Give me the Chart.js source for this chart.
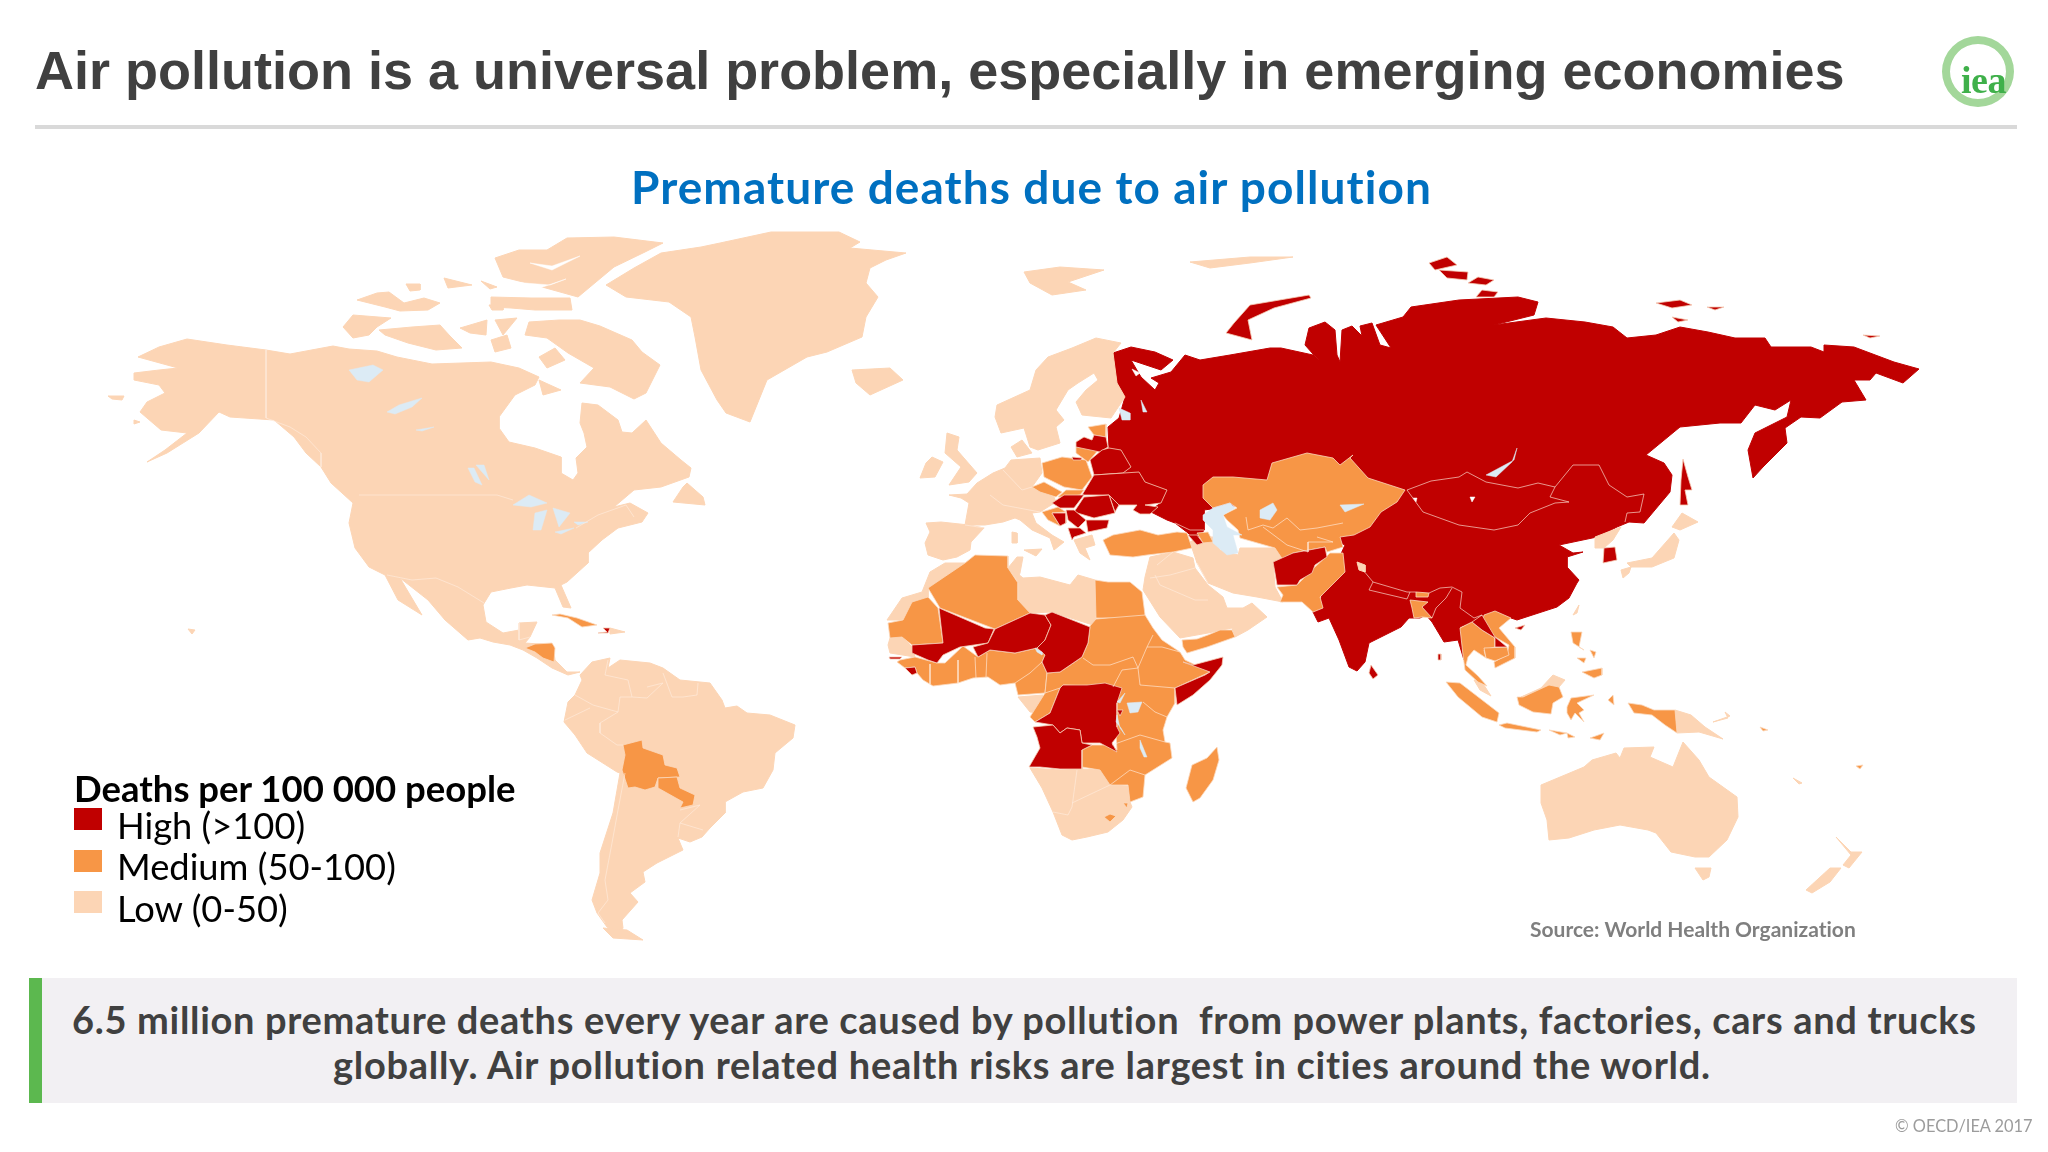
<!DOCTYPE html>
<html>
<head>
<meta charset="utf-8">
<title>Premature deaths due to air pollution</title>
<script src="https://cdn.jsdelivr.net/npm/chart.js@4/dist/chart.umd.min.js"></script>
<style>
html,body{margin:0;padding:0;background:#fff}
#page{position:relative;width:2048px;height:1152px;overflow:hidden;background:#fff}
#map{position:absolute;left:0;top:0}
.t{position:absolute;white-space:nowrap;font-family:Lato,sans-serif;font-variant-ligatures:none}
.box{position:absolute}
</style>
</head>
<body>
<div id="page">
<canvas id="map" width="2048" height="1152"></canvas>
<div class="t" style="left:35px;top:37px;font:bold 54px/66px 'Liberation Sans';color:#404040">Air pollution is a universal problem, especially in emerging economies</div>
<div class="box" style="left:35px;top:125px;width:1982px;height:4px;background:#d9d9d9"></div>
<div class="box" style="left:1942px;top:36px;width:56px;height:55px;border:8px solid #a3d79a;border-radius:50%"></div>
<div class="t" style="left:1961px;top:60px;font:bold 38px/40px 'Liberation Serif';color:#3fb04a;letter-spacing:-.5px">iea</div>
<div class="t" style="left:631px;top:158px;font-weight:700;font-size:46px;line-height:58px;letter-spacing:1.07px;color:#0070c0">Premature deaths due to air pollution</div>
<div class="t" style="left:74px;top:766px;font-weight:700;font-size:36.5px;line-height:44px;color:#000" id="legendTitle"></div>
<div id="legend"></div>
<div class="t" style="left:1530px;top:915px;font-weight:700;font-size:21px;line-height:28px;color:#7f7f7f">Source: World Health Organization</div>
<div class="box" style="left:29px;top:978px;width:1988px;height:125px;background:#f2f0f3"></div>
<div class="box" style="left:29px;top:978px;width:13px;height:125px;background:#5cb84f"></div>
<div class="t" style="left:72px;top:997px;font-weight:700;font-size:38px;line-height:44px;letter-spacing:.68px;color:#404040">6.5 million premature deaths every year are caused by pollution&nbsp; from power plants, factories, cars and trucks</div>
<div class="t" style="left:333px;top:1042px;font-weight:700;font-size:38px;line-height:44px;letter-spacing:.72px;color:#404040">globally. Air pollution related health risks are largest in cities around the world.</div>
<div class="t" style="left:1895px;top:1115px;font-size:16.4px;line-height:22px;color:#9c9c9c">© OECD/IEA 2017</div>
</div>
<script>
// legend
var legendTitle = "Deaths per 100 000 people";
var legendLabels = ["High (>100)", "Medium (50-100)", "Low (0-50)"];
var legendColors = ["#C00000", "#F79646", "#FCD5B5"];

// map outlines, flat x,y lists in map units
var eurasiaHigh = [
 [1113,353,1131,347,1155,352,1173,360,1161,370,1131,360,1141,377,1155,390,1159,383,1151,378,1171,372,1185,355,1200,360,1230,355,1270,348,1281,348,1313,355,1321,363,1305,345,1309,328,1325,322,1335,330,1337,355,1340,362,1342,330,1352,326,1362,336,1360,326,1372,323,1380,345,1391,348,1376,325,1403,317,1411,307,1459,300,1518,297,1538,302,1534,315,1494,325,1546,318,1585,322,1613,327,1627,338,1656,335,1680,327,1708,332,1735,338,1765,338,1771,347,1811,347,1824,352,1824,345,1854,347,1894,362,1919,369,1903,383,1876,373,1870,380,1854,380,1866,400,1842,402,1820,418,1801,417,1785,428,1787,443,1763,467,1753,478,1748,450,1755,433,1787,417,1791,400,1775,410,1755,405,1741,423,1720,423,1700,425,1680,427,1646,455,1664,463,1672,475,1670,492,1644,523,1629,522,1617,527,1597,537,1559,545,1573,553,1583,552,1567,557,1567,567,1579,580,1577,583,1569,598,1557,607,1517,620,1511,618,1484,617,1472,622,1460,627,1462,643,1464,660,1458,640,1444,642,1432,622,1426,615,1420,618,1409,618,1401,627,1369,643,1365,662,1357,671,1349,667,1339,640,1329,618,1318,622,1312,610,1320,600,1345,545,1300,525,1240,505,1204,510,1204,530,1197,542,1188,533,1175,523,1167,520,1149,511,1161,503,1167,490,1145,482,1139,472,1123,473,1131,467,1121,450,1109,448,1108,427,1119,418,1125,397,1117,383]
];
var lowAreas = [
 // north america
 [138,357,159,347,187,339,227,345,266,350,290,354,333,346,349,349,377,351,397,357,432,364,491,362,519,368,539,377,535,385,515,395,499,417,499,428,509,442,535,448,561,457,561,473,573,480,578,473,576,458,587,447,584,433,580,423,582,403,598,405,618,420,622,432,632,433,646,420,661,443,681,460,691,468,689,477,661,487,634,490,614,507,630,503,648,513,642,522,618,528,602,540,588,553,588,563,567,582,561,585,571,608,563,607,555,588,527,585,511,588,491,592,483,605,486,622,503,633,519,630,519,623,537,622,530,637,525,643,553,645,555,660,567,672,580,672,568,675,552,668,537,658,523,650,510,645,493,642,480,638,468,640,445,620,428,600,400,578,422,615,398,600,385,575,369,567,355,548,349,523,353,503,331,483,321,467,306,453,294,437,274,420,230,417,219,412,199,433,167,453,147,462,165,450,187,433,161,430,140,412,147,402,165,393,159,385,134,380,134,373,159,370,178,368],
 // arctic islands
 [580,320,600,326,632,340,642,352,660,365,646,393,634,399,610,387,580,383,594,368,568,353,547,338,525,335,529,322,559,320],
 [343,327,353,315,391,318,377,327,369,335,353,338],
 [379,330,412,327,440,325,450,336,462,348,436,350,408,343,385,335],
 [460,328,487,320,486,335,470,333],
 [495,320,517,318,503,335],
 [491,340,507,335,511,348,495,352],
 [357,300,377,293,389,292,404,303,424,298,440,303,428,310,400,311,385,307],
 [444,278,472,285,448,288],
 [406,284,420,284,420,290,410,291],
 [481,281,497,287,490,289],
 [489,305,503,305,503,310,492,310],
 [495,258,519,250,547,250,567,238,614,237,663,243,645,252,614,267,578,297,535,285,503,277],
 [491,297,531,298,570,298,572,310,535,310,511,308,491,307],
 [539,357,555,348,565,360,547,368],
 [539,380,561,390,543,395],
 [687,483,703,497,705,505,673,502,683,487],
 [124,396,122,400,112,399,108,396],
 [134,420,140,422,134,424],
 [188,629,195,630,192,634],
 [610,628,625,632,610,634],
 // greenland, iceland, svalbard
 [606,285,634,268,661,253,701,247,720,243,771,232,839,232,860,242,850,248,906,253,886,260,870,268,866,283,878,297,866,317,862,337,827,352,807,357,767,380,750,422,726,413,717,400,701,370,695,337,691,317,669,302,626,297],
 [852,370,890,368,903,380,870,395,856,383],
 [1024,272,1060,267,1104,270,1068,282,1086,290,1052,295,1030,283],
 [1190,262,1210,268,1250,263,1293,257,1250,257],
 // europe
 [1121,343,1096,338,1072,348,1048,357,1036,370,1030,390,997,405,995,417,1001,433,1024,428,1030,447,1038,450,1060,443,1056,427,1064,420,1056,410,1068,390,1078,383,1094,373,1098,380,1086,390,1076,402,1082,415,1111,418,1125,397,1117,383,1113,353],
 [947,433,959,437,957,450,977,473,969,482,949,485,961,467,945,453],
 [932,457,943,462,935,477,920,478,926,463],
 [926,523,941,522,969,525,984,528,971,542,970,550,957,557,943,560,928,555,925,543,930,532],
 [949,495,967,494,977,483,993,473,1005,468,1011,460,1040,458,1042,473,1032,487,1054,497,1056,502,1048,507,1040,512,1032,513,1036,523,1052,535,1064,542,1054,550,1050,538,1032,530,1020,520,1015,518,1003,522,985,525,965,525,969,503,961,498],
 [1011,447,1022,440,1032,453,1017,457],
 [1012,532,1017,533,1017,543,1012,543],
 [1024,550,1042,549,1036,556],
 [1074,540,1092,535,1095,545,1085,548,1090,560,1080,553],
 // africa north and south
 [887,620,902,598,922,592,930,572,945,563,965,563,963,573,953,580,928,588,928,597,912,602,903,620],
 [1017,573,1023,578,1040,577,1070,585,1078,575,1095,580,1096,626,1052,612,1030,613,1018,600],
 [1008,568,1017,557,1023,557,1020,573,1017,580],
 [888,645,890,638,902,637,912,647,915,657,890,653],
 [1018,697,1043,695,1040,703,1042,713,1030,712],
 [1030,768,1060,770,1082,769,1100,770,1110,785,1128,786,1130,802,1132,807,1123,820,1108,832,1087,837,1072,840,1062,835,1053,812,1042,788],
 // middle east
 [1190,542,1200,537,1213,537,1220,550,1238,555,1240,548,1275,548,1283,560,1273,562,1275,587,1283,602,1257,597,1233,593,1208,583,1197,563],
 [1143,590,1160,617,1180,638,1208,633,1232,628,1235,637,1248,630,1267,617,1252,603,1243,608,1227,608,1223,597,1208,585,1195,568,1193,558,1173,552,1150,557,1145,577],
 // asia pacific
 [1595,537,1621,527,1613,540,1604,548,1595,548],
 [1627,563,1652,558,1674,533,1679,540,1674,558,1652,567,1631,567],
 [1672,527,1682,513,1698,522,1680,530],
 [1621,570,1631,567,1629,573,1623,578],
 [1573,615,1579,605,1577,613],
 [1357,562,1365,565,1365,572,1359,570],
 [1474,680,1482,682,1491,696,1480,690],
 [1521,697,1541,688,1553,675,1565,680,1559,687,1549,685,1533,693],
 [1675,710,1691,715,1705,727,1723,739,1699,732,1677,733],
 [1713,722,1730,716,1725,712,1728,718],
 // south america
 [580,675,592,662,610,658,608,668,620,660,650,663,663,668,680,680,710,683,722,700,725,708,737,706,747,713,770,715,795,725,793,738,775,753,773,770,763,788,743,792,725,802,725,813,710,828,702,837,690,842,678,838,683,850,657,863,643,872,645,882,630,893,638,902,622,920,623,928,620,933,607,927,597,913,592,900,600,873,600,853,613,813,620,773,617,772,587,753,575,735,564,722,568,702,575,695,582,680],
 [603,928,627,930,643,940,613,938],
 // australia
 [1541,785,1584,767,1592,760,1616,753,1620,758,1624,748,1654,747,1650,757,1673,767,1683,742,1699,760,1709,777,1737,797,1738,817,1727,840,1709,857,1695,857,1671,852,1656,833,1648,830,1620,825,1594,830,1569,838,1549,840,1547,820,1541,803],
 [1695,868,1711,868,1709,877,1703,880],
 [1836,837,1851,852,1862,852,1849,868,1843,865,1851,855],
 [1806,890,1830,868,1841,868,1830,882,1812,893],
 [1793,778,1802,783,1799,784]
];
var mediumAreas = [
 // europe
 [1042,463,1062,457,1086,460,1092,477,1082,490,1064,487,1044,477],
 [1032,487,1044,482,1062,492,1056,497,1040,492],
 [1058,497,1066,490,1084,490,1080,495,1068,497],
 [1088,427,1106,424,1106,437,1094,435],
 [1076,447,1100,448,1088,462,1076,453],
 [1042,512,1058,507,1066,512,1052,513,1060,526,1048,520],
 [1103,540,1113,535,1140,530,1158,535,1177,532,1187,533,1192,548,1173,552,1147,555,1133,557,1110,555],
 [1197,533,1208,532,1213,542,1203,543],
 // central and south asia
 [1203,485,1213,477,1233,477,1267,480,1272,463,1307,453,1333,458,1340,465,1353,455,1350,458,1368,478,1405,490,1397,502,1381,512,1370,527,1354,535,1340,537,1343,547,1327,552,1325,547,1293,553,1283,560,1275,548,1240,538,1238,530,1227,520,1223,515,1237,508,1230,503,1213,508,1203,498],
 [1277,587,1297,585,1315,567,1330,553,1343,553,1345,572,1320,597,1323,608,1313,612,1302,602,1280,602,1283,595],
 [1416,592,1429,593,1428,597,1416,597],
 [1410,600,1428,602,1422,607,1432,618,1422,617,1414,618,1412,608],
 // south east asia
 [1484,615,1495,611,1511,618,1499,628,1515,647,1515,658,1495,668,1494,662,1507,655,1509,645,1495,637,1482,625],
 [1460,628,1472,622,1482,630,1495,638,1495,647,1484,650,1486,658,1474,650,1468,657,1466,665,1478,676,1487,686,1478,682,1465,670,1463,655],
 [1484,648,1507,647,1509,655,1495,661,1486,658],
 [1446,682,1460,683,1499,713,1497,722,1482,717,1458,697],
 [1499,725,1507,723,1541,730,1537,732,1505,728],
 [1549,730,1567,733,1560,735],
 [1567,733,1575,737,1568,738],
 [1590,738,1604,733,1600,740],
 [1517,697,1523,697,1549,685,1559,687,1563,697,1553,703,1551,714,1533,712,1519,705],
 [1567,707,1571,698,1594,695,1577,703,1584,710,1579,713,1584,722,1575,713,1571,720,1567,713],
 [1628,703,1642,705,1654,710,1675,710,1677,733,1665,725,1652,715,1634,713],
 [1571,632,1582,632,1579,647,1584,650,1573,643],
 [1582,672,1602,668,1602,675,1594,678],
 [1577,658,1586,658,1584,663],
 [1590,650,1596,652,1594,658],
 [1608,700,1613,695,1614,705],
 [1760,727,1768,730,1763,731],
 [1856,766,1863,765,1860,769],
 // central america and caribbean
 [525,648,535,644,552,643,555,648,554,662,543,658,535,652],
 [552,615,560,614,577,618,597,625,582,627,568,618],
 // bolivia, paraguay
 [623,745,642,740,643,748,663,755,665,765,677,768,680,777,658,778,655,787,645,790,635,787,628,788,622,770,625,755],
 [658,778,677,777,680,788,695,795,693,805,680,808,683,802,658,788],
 // africa
 [928,588,965,563,975,555,1008,556,1008,568,1018,583,1018,600,1030,613,995,629,940,608],
 [888,623,903,620,912,602,928,597,938,608,943,643,912,645,902,637,890,638],
 [900,660,915,657,937,663,945,663,963,646,978,657,990,650,1015,653,1037,648,1045,655,1042,662,1047,673,1045,693,1018,695,1015,683,1000,685,988,677,973,678,958,683,933,686,923,680,917,673,915,667,905,668,897,662],
 [1095,580,1108,582,1130,582,1142,592,1145,615,1138,618,1096,618],
 [1096,619,1145,615,1153,628,1162,640,1180,652,1185,660,1210,672,1175,688,1175,703,1167,717,1163,730,1165,742,1170,743,1172,758,1145,775,1143,797,1130,802,1128,785,1110,785,1100,770,1082,767,1082,750,1092,745,1112,745,1117,750,1113,687,1063,685,1060,688,1050,713,1035,722,1030,717,1045,693,1047,673,1060,672,1082,657,1088,643,1090,626],
 [1104,817,1110,814,1116,816,1110,822],
 [1123,803,1128,803,1127,808],
 [1186,788,1192,765,1207,758,1217,747,1219,760,1213,780,1200,798,1193,802],
 [1182,640,1197,639,1208,635,1220,630,1232,630,1235,637,1207,647,1187,653,1183,647]
];
var highAreas = [
 [1076,442,1084,437,1092,440,1094,435,1106,437,1108,447,1100,452,1076,447],
 [1072,457,1082,458,1081,460,1073,460],
 [1102,450,1109,448,1121,450,1131,467,1123,473,1094,475,1090,460],
 [1094,475,1139,472,1145,482,1167,490,1161,503,1145,505,1158,507,1150,514,1140,514,1133,510,1137,505,1119,505,1109,495,1082,495],
 [1109,495,1119,505,1115,512],
 [1052,503,1064,495,1084,495,1074,508,1060,508],
 [1084,497,1109,495,1115,513,1094,518,1074,512],
 [1066,510,1074,510,1086,520,1078,528,1068,520],
 [1086,520,1109,520,1107,528,1088,532],
 [1052,513,1066,513,1066,523,1060,526],
 [1068,528,1080,528,1086,533,1074,537,1072,540],
 [1188,535,1197,535,1203,543,1197,545],
 [1273,562,1293,553,1325,547,1327,557,1315,565,1312,573,1300,580,1297,585,1277,585,1275,573],
 [1472,622,1482,615,1495,637,1507,647,1495,647,1495,638,1482,630],
 [1515,628,1525,625,1521,630],
 [1371,665,1378,675,1373,679,1369,673],
 [1438,654,1441,654,1441,660,1438,660],
 [1604,548,1615,547,1617,560,1603,563],
 [1683,459,1688,477,1692,490,1685,490,1688,505,1680,505,1681,480],
 // russian islands
 [1226,333,1234,323,1250,305,1309,295,1311,298,1274,308,1248,320,1252,340],
 [1429,263,1447,257,1457,265,1435,270],
 [1439,270,1468,272,1467,280,1447,278],
 [1468,283,1478,277,1494,280,1486,285],
 [1476,297,1482,290,1498,292,1494,297],
 [1656,303,1680,300,1692,305,1672,308],
 [1707,307,1724,307,1715,310],
 [1672,317,1688,320,1678,322],
 [1863,335,1880,336,1870,338],
 // africa
 [939,608,985,628,994,629,988,643,960,647,943,655,937,663,928,660,912,653,912,645,943,643],
 [995,629,1030,613,1045,615,1051,625,1045,640,1037,648,1015,653,990,650,978,657,973,647,988,643],
 [1045,615,1052,612,1090,627,1088,643,1082,657,1060,672,1047,673,1042,662,1045,655,1037,648,1045,640,1051,625],
 [889,657,902,657,900,659,890,659],
 [905,668,915,667,917,673,912,675],
 [1183,662,1193,665,1223,657,1222,665,1210,680,1193,695,1177,705,1175,688,1205,675,1210,672],
 [1063,685,1087,685,1105,683,1122,688,1117,703,1117,727,1120,733,1112,743,1117,752,1100,743,1082,743,1080,730,1067,728,1060,733,1053,725,1035,722,1050,713,1060,688],
 [1033,727,1053,725,1060,733,1067,728,1080,730,1082,743,1092,745,1082,750,1082,769,1060,769,1040,767,1029,767,1040,748,1037,737],
 [1117,710,1123,710,1120,716],
 // caribbean
 [603,628,610,628,608,633,598,633,607,632]
];
var lakeAreas = [
 [1203,515,1213,508,1230,503,1235,508,1223,515,1227,527,1242,535,1233,535,1238,553,1227,555,1213,543,1213,530,1203,520],
 [1260,510,1273,503,1277,510,1270,520,1260,518],
 [1486,475,1514,460,1517,448,1512,462,1496,477],
 [1119,408,1130,413,1130,420,1122,420],
 [1141,400,1147,412,1143,412],
 [513,505,529,495,547,503,531,507],
 [535,513,547,510,541,530,533,530],
 [553,508,570,513,559,527],
 [555,532,574,528,561,534],
 [574,522,588,522,578,525],
 [468,468,474,468,482,485,475,482],
 [476,465,484,465,489,480],
 [349,370,373,365,383,370,369,382,357,380],
 [387,412,399,405,422,398,412,407,395,414],
 [416,430,434,427,422,431],
 [1127,703,1142,702,1138,712,1130,713],
 [1117,715,1120,728,1125,735,1121,728,1116,722],
 [1140,740,1147,757,1144,757,1140,748],
 [1117,702,1125,693,1120,703],
 [1035,648,1042,652,1042,655,1037,652],
 [1340,505,1364,504,1345,512]
];
var seaAreas = [
 [530,263,552,266,580,256,552,270],
 [512,282,550,285,566,279,540,288],
 [1132,369,1140,373,1136,376],
 [1413,498,1417,498,1416,502],
 [1470,497,1475,497,1472,502]
];
var borderLines = [
 [359,495,497,495,513,500],
 [576,528,598,515,626,505,634,517],
 [266,350,266,418,290,427,306,437,321,453,321,467],
 [387,575,412,580,436,578,458,587,484,603],
 [519,623,519,640,530,637],
 [608,660,605,675,628,680,632,697,620,697,618,712,600,723,600,733,617,745,623,745],
 [575,695,593,705,618,712],
 [565,720,590,708],
 [625,773,618,810,612,843,605,880,608,900,598,913,605,923],
 [632,697,647,698,663,683,647,687],
 [663,673,672,697,683,697,697,695,698,683],
 [678,837,680,823,700,805],
 [680,823,703,830],
 [680,810,700,805],
 [1077,770,1072,807,1068,815,1053,812],
 [1072,803,1093,793,1110,785],
 [1083,658,1093,665,1110,665,1133,657,1138,668,1147,647,1162,647,1180,652],
 [1153,635,1147,647],
 [1138,668,1140,685,1175,688],
 [1143,702,1155,712,1167,717],
 [1112,745,1140,735,1165,742],
 [1113,687,1122,670,1138,668],
 [1015,683,1030,673,1042,662],
 [987,653,986,677],
 [975,657,976,678],
 [958,660,958,683],
 [930,664,930,684],
 [1045,693,1060,688],
 [1110,785,1130,770,1145,775],
 [1246,517,1248,530,1263,525,1273,528,1287,518,1300,530,1317,528,1343,523],
 [1263,527,1287,545,1308,552],
 [1317,537,1333,542,1308,542,1308,552],
 [1363,570,1373,582,1369,590,1407,599,1410,592],
 [1373,582,1407,592,1416,592],
 [1429,593,1440,588,1452,587,1462,592,1460,608,1474,618,1482,615],
 [1432,618,1436,608,1446,598,1452,588],
 [1407,490,1431,481,1459,477,1467,472,1486,482,1518,488,1538,483,1555,487,1550,497,1569,502,1555,503,1530,513,1518,525,1494,530,1459,525,1423,512,1407,490],
 [1555,487,1573,465,1599,465,1609,485,1627,497,1644,494,1640,512,1627,513,1625,522],
 [1175,523,1190,530,1204,530],
 [990,495,1003,505],
 [1003,470,1022,490,1032,487],
 [1003,505,1040,512],
 [965,525,985,528],
 [1157,565,1173,552],
 [1150,578,1170,575,1195,568],
 [1155,575,1160,585,1195,600,1208,600],
 [1197,563,1208,583]
];

// outlines to chart points, closed when asked for
function toPoints(flat, closed) {
  var pts = [];
  for (var i = 0; i < flat.length; i += 2) {
    pts.push({x: flat[i], y: flat[i + 1]});
  }
  if (closed) pts.push({x: flat[0], y: flat[1]});
  return pts;
}
function addLayer(list, fillColor, lineColor, lineWidth) {
  list.forEach(function (flat) {
    datasets.push({
      data: toPoints(flat, !!fillColor),
      showLine: true,
      fill: fillColor ? 'shape' : false,
      backgroundColor: fillColor || 'transparent',
      borderColor: lineColor,
      borderWidth: lineWidth,
      pointRadius: 0,
      tension: 0,
      clip: false
    });
  });
}

var datasets = [];
addLayer(eurasiaHigh, legendColors[0], legendColors[0], 1);
addLayer(lowAreas, legendColors[2], legendColors[2], 1);
addLayer(mediumAreas, legendColors[1], '#FBD9BE', 0.8);
addLayer(highAreas, legendColors[0], '#F6CDB5', 0.8);
addLayer(seaAreas, '#ffffff', '#ffffff', 0.5);
addLayer(lakeAreas, '#DCEBF5', '#DCEBF5', 0.5);
addLayer(borderLines, null, 'rgba(255,236,222,0.8)', 0.8);
// later layers on top
datasets.forEach(function (d, i) { d.order = -i; });

new Chart(document.getElementById('map'), {
  type: 'scatter',
  data: {datasets: datasets},
  options: {
    responsive: false,
    animation: false,
    devicePixelRatio: 1,
    layout: {padding: 0},
    plugins: {legend: {display: false}, tooltip: {enabled: false}},
    scales: {
      x: {type: 'linear', min: 0, max: 2048, display: false},
      y: {type: 'linear', min: 0, max: 1152, reverse: true, display: false}
    }
  }
});

// legend text and swatches
document.getElementById('legendTitle').textContent = legendTitle;
var legendBox = document.getElementById('legend');
var swatchTops = [808, 850, 891];
var labelTops = [803, 844, 886];
legendLabels.forEach(function (label, i) {
  var s = document.createElement('div');
  s.className = 'box';
  s.style.cssText = 'left:74px;top:' + swatchTops[i] + 'px;width:28px;height:22px;background:' + legendColors[i];
  legendBox.appendChild(s);
  var t = document.createElement('div');
  t.className = 't';
  t.style.cssText = 'left:117px;top:' + labelTops[i] + 'px;font-size:36.3px;line-height:44px;color:#000';
  t.textContent = label;
  legendBox.appendChild(t);
});
</script>
</body>
</html>
